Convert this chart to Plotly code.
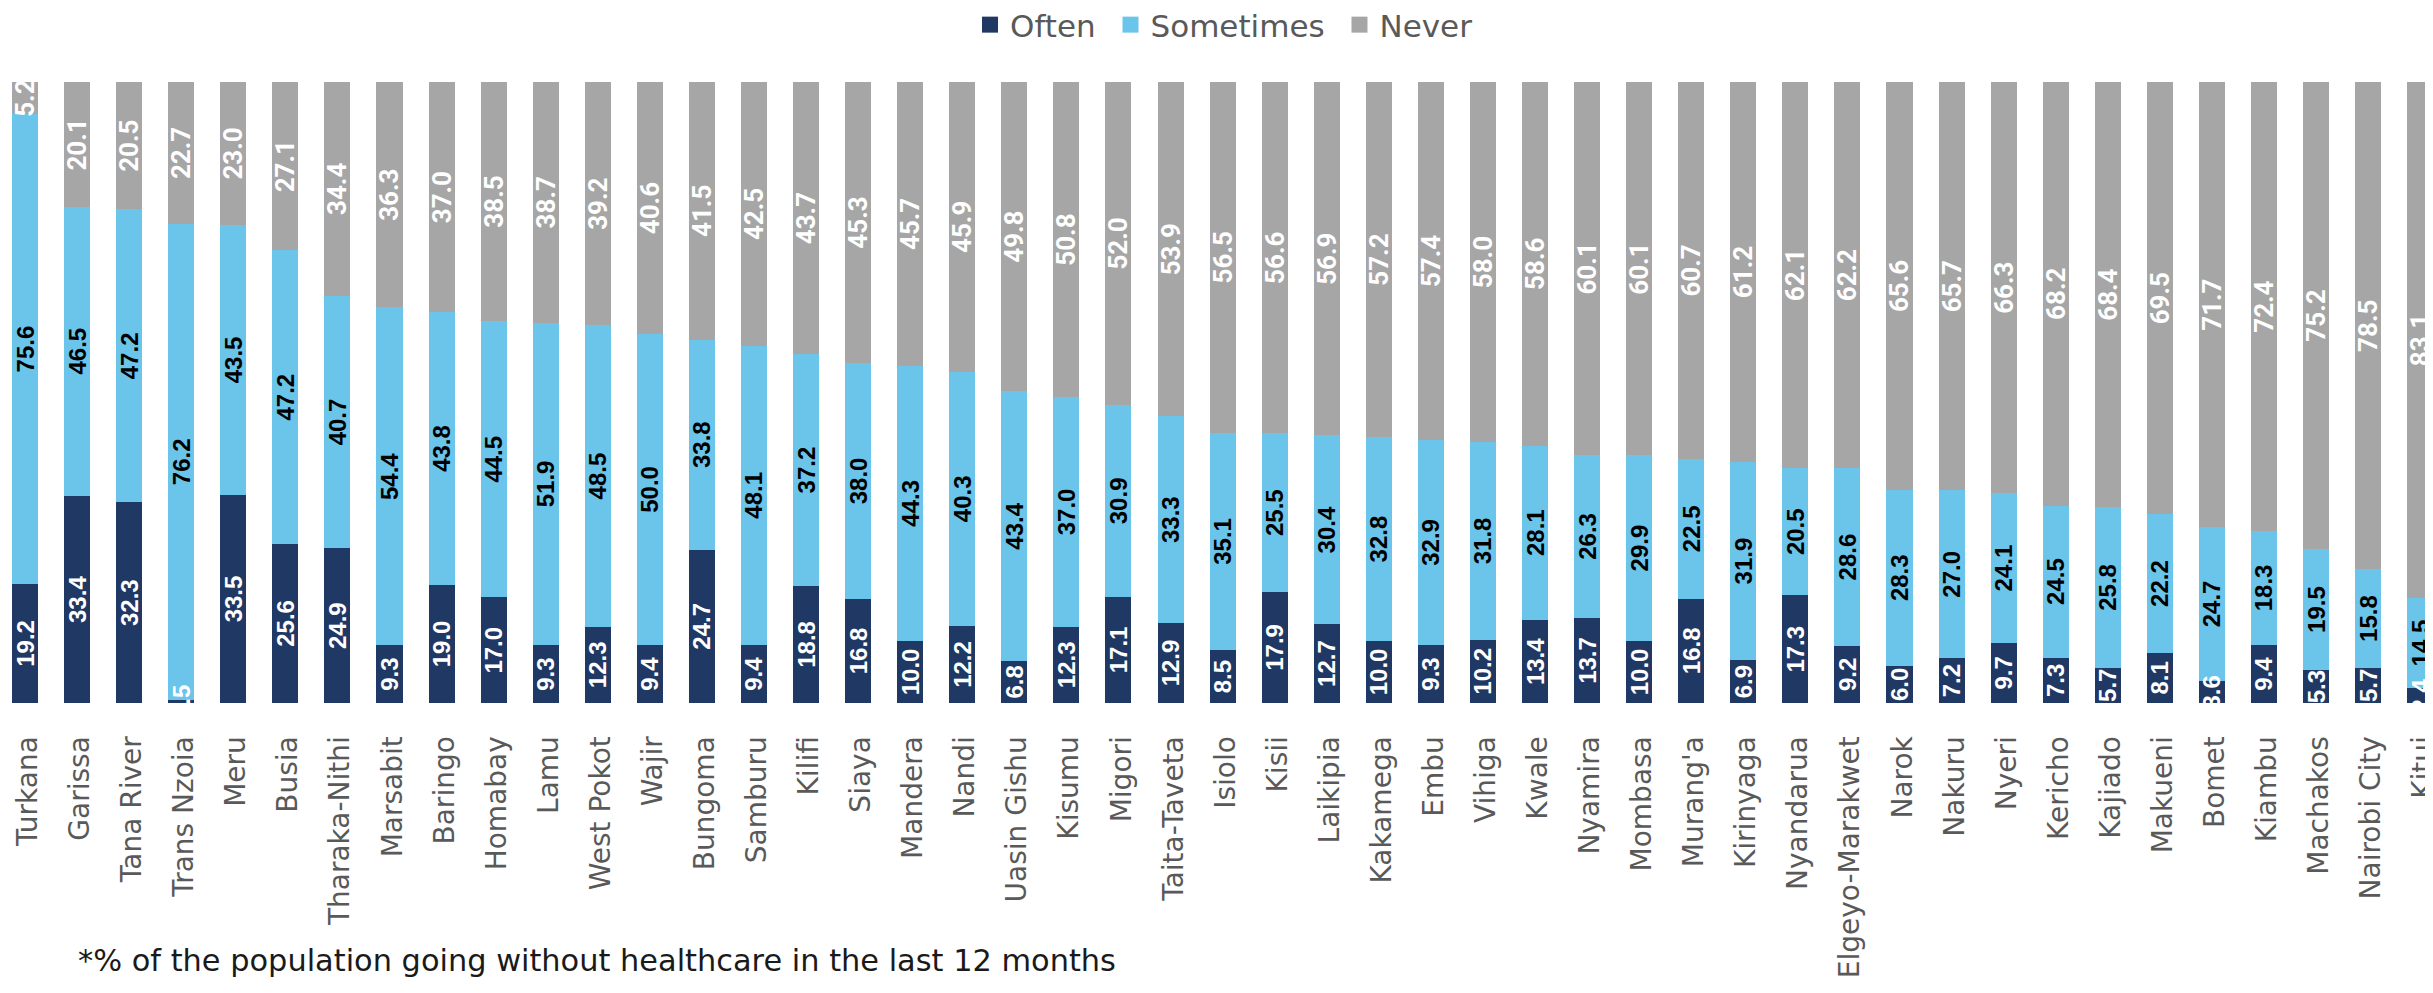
import plotly.graph_objects as go

counties = ["Turkana", "Garissa", "Tana River", "Trans Nzoia", "Meru", "Busia", "Tharaka-Nithi",
            "Marsabit", "Baringo", "Homabay", "Lamu", "West Pokot", "Wajir", "Bungoma", "Samburu",
            "Kilifi", "Siaya", "Mandera", "Nandi", "Uasin Gishu", "Kisumu", "Migori", "Taita-Taveta",
            "Isiolo", "Kisii", "Laikipia", "Kakamega", "Embu", "Vihiga", "Kwale", "Nyamira", "Mombasa",
            "Murang'a", "Kirinyaga", "Nyandarua", "Elgeyo-Marakwet", "Narok", "Nakuru", "Nyeri",
            "Kericho", "Kajiado", "Makueni", "Bomet", "Kiambu", "Machakos", "Nairobi City", "Kitui"]

often = [19.2, 33.4, 32.3, 0.5, 33.5, 25.6, 24.9, 9.3, 19.0, 17.0, 9.3, 12.3, 9.4, 24.7, 9.4,
         18.8, 16.8, 10.0, 12.2, 6.8, 12.3, 17.1, 12.9, 8.5, 17.9, 12.7, 10.0, 9.3, 10.2, 13.4,
         13.7, 10.0, 16.8, 6.9, 17.3, 9.2, 6.0, 7.2, 9.7, 7.3, 5.7, 8.1, 3.6, 9.4, 5.3, 5.7, 2.4]

sometimes = [75.6, 46.5, 47.2, 76.2, 43.5, 47.2, 40.7, 54.4, 43.8, 44.5, 51.9, 48.5, 50.0, 33.8,
             48.1, 37.2, 38.0, 44.3, 40.3, 43.4, 37.0, 30.9, 33.3, 35.1, 25.5, 30.4, 32.8, 32.9,
             31.8, 28.1, 26.3, 29.9, 22.5, 31.9, 20.5, 28.6, 28.3, 27.0, 24.1, 24.5, 25.8, 22.2,
             24.7, 18.3, 19.5, 15.8, 14.5]

never = [5.2, 20.1, 20.5, 22.7, 23.0, 27.1, 34.4, 36.3, 37.0, 38.5, 38.7, 39.2, 40.6, 41.5, 42.5,
         43.7, 45.3, 45.7, 45.9, 49.8, 50.8, 52.0, 53.9, 56.5, 56.6, 56.9, 57.2, 57.4, 58.0, 58.6,
         60.1, 60.1, 60.7, 61.2, 62.1, 62.2, 65.6, 65.7, 66.3, 68.2, 68.4, 69.5, 71.7, 72.4, 75.2,
         78.5, 83.1]

series_names = ["Often", "Sometimes", "Never"]
colors = ["#203864", "#6BC4E9", "#A6A6A6"]
footnote = "*% of the population going without healthcare in the last 12 months"

label_fonts = [
    dict(family="Liberation Sans", size=24, color="white", weight="bold"),
    dict(family="Liberation Sans", size=24, color="black", weight="bold"),
    dict(family="Roboto", size=26, color="white", weight="bold"),
]

fig = go.Figure()
for i, (name, vals, col, tf) in enumerate(zip(series_names, [often, sometimes, never], colors, label_fonts)):
    fig.add_trace(go.Bar(
        x=counties, y=vals, name=name, marker=dict(color=col, line=dict(width=0)),
        text=[f"{v:.1f}" for v in vals], textposition="inside", insidetextanchor="middle",
        textangle=-90, constraintext="none", textfont=tf, showlegend=False,
        zorder=1 if i == 0 else 0,
    ))
for name, col in zip(series_names, colors):
    # legend-only entry with larger square symbol
    fig.add_trace(go.Scatter(
        x=[None], y=[None], mode="markers", name=name + "\u00a0",
        marker=dict(symbol="square", size=18, color=col), showlegend=True,
    ))

fig.update_layout(
    width=2433, height=993,
    margin=dict(l=0, r=0, t=74, b=298, autoexpand=False),
    barmode="stack", barnorm="percent", bargap=0.5,
    plot_bgcolor="white", paper_bgcolor="white",
    legend=dict(orientation="h", x=0.3954, xanchor="left", y=1.0918, yanchor="middle",
                traceorder="normal",
                font=dict(family="DejaVu Sans", size=31, color="#595959"),
                itemsizing="trace", tracegroupgap=0),
    xaxis=dict(range=[-0.3265, 46.40], tickangle=-90, showline=True, linecolor="#D9D9D9",
               linewidth=2, ticks="", ticklabelstandoff=20, ticklabelshift=3,
               ticklabeloverflow="allow", showgrid=False,
               tickfont=dict(family="DejaVu Sans", size=28, color="#595959")),
    yaxis=dict(range=[0, 100], visible=False, showgrid=False),
    annotations=[dict(text=footnote, xref="paper", yref="paper", x=68 / 2433, y=-0.4145,
                      xanchor="left", yanchor="middle", showarrow=False,
                      font=dict(family="DejaVu Sans", size=30.4, color="#1A1A1A"))],
)

fig.write_html("out.html")
